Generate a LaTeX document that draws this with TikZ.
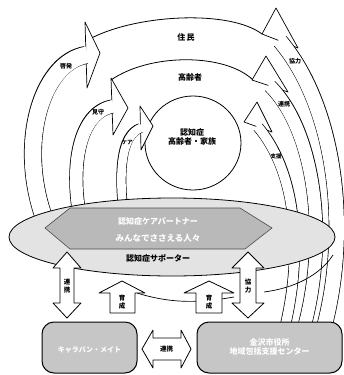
\documentclass[tikz,border=0pt]{standalone}
\usepackage{fontspec}
\setmainfont{Noto Sans CJK JP}
\begin{document}
\begin{tikzpicture}[x=1pt,y=-1pt,
  lab/.style={font=\fontsize{6}{6}\selectfont\bfseries, inner sep=0pt},
  vlab/.style={font=\fontsize{6.5}{7.5}\selectfont\bfseries, align=center, inner sep=0pt},
  ring/.style={font=\fontsize{8}{9}\selectfont\bfseries},
  head/.style={fill=white, draw=black, line width=0.7pt, line join=round},
  sho/.style={line width=#1, draw=black},
  shi/.style={line width=#1, draw=white, shorten >=-1.5pt},
  blk/.style={fill=white, draw=black, line width=0.8pt, line join=round},
  gbox/.style={fill=gray!45, draw=black, line width=1pt, rounded corners=12pt},
  wtxt/.style={text=white, font=\fontsize{8}{9}\selectfont\bfseries},
]
\useasboundingbox (0,0) rectangle (344,375);

% rings
\draw[line width=0.8pt] (92.5,37.5) .. controls (140,14) and (230,10) .. (262,34);
\draw[line width=0.8pt] (111,80) .. controls (150,53) and (225,53) .. (253,80);
\draw[line width=0.8pt] (193,143) ellipse [x radius=48pt, y radius=47pt];
\node[ring] (jumin) at (186,37) {住\,民};
\node[ring] (koreisha) at (190,77) {高齢者};
\node[ring, align=center] (kazoku) at (192,137) {認知症\\高齢者・家族};

% left arrows
\draw[head] (85,22)--(100,53)--(87,88)--cycle;
\draw[sho=18pt] (48,228) .. controls (15,150) and (40,62) .. (86,55);
\draw[shi=16.6pt] (48,228) .. controls (15,150) and (40,62) .. (86,55);
\node[lab] (lab1) at (66,66) {啓発};

\draw[head] (111,78)--(128,108)--(113,135)--cycle;
\draw[sho=14pt] (82,228) .. controls (68,165) and (80,112) .. (112,106.5);
\draw[shi=12.6pt] (82,228) .. controls (68,165) and (80,112) .. (112,106.5);
\node[lab] (lab2) at (98,112) {見守};

\draw[head] (140,106)--(153,126)--(141,150)--cycle;
\draw[sho=10pt] (125,225) .. controls (118,175) and (120,135) .. (140.5,128);
\draw[shi=8.6pt] (125,225) .. controls (118,175) and (120,135) .. (140.5,128);
\node[lab, font=\fontsize{5.5}{6}\selectfont\bfseries] (lab3) at (127,142) {ケア};

% right arrows
\draw[head] (262,34)--(276,8)--(298,48)--cycle;
\draw[sho=16pt] (322,335) .. controls (352,230) and (335,105) .. (280,41);
\draw[shi=14.6pt] (322,335) .. controls (352,230) and (335,105) .. (280,41);
\node[lab] (lab4) at (295,61) {協力};

\draw[head] (252,80)--(266,56)--(288,92)--cycle;
\draw[sho=14pt] (302,335) .. controls (330,240) and (315,130) .. (270,86);
\draw[shi=12.6pt] (302,335) .. controls (330,240) and (315,130) .. (270,86);
\node[lab] (lab5) at (284,104) {連携};

\draw[head] (244,122)--(257,102)--(272,132)--cycle;
\draw[sho=11pt] (283,335) .. controls (305,250) and (295,170) .. (258,127);
\draw[shi=9.6pt] (283,335) .. controls (305,250) and (295,170) .. (258,127);
\node[lab, font=\fontsize{5.5}{6}\selectfont\bfseries] (lab6) at (276,156) {支援};

% extra ring lines below oval
\draw[line width=0.7pt] (137,293) .. controls (175,305) and (205,302) .. (234,297);
\draw[line width=0.7pt] (264,292) .. controls (295,288) and (320,275) .. (333,255);

% supporters oval and hexagon
\draw[fill=gray!22, line width=0.8pt] (172,237) ellipse [x radius=163pt, y radius=39pt];
\draw[fill=gray!55, draw=gray!60!black, line width=0.6pt] (45,228)--(70,208)--(240,208)--(272,228)--(245,249)--(70,249)--cycle;
\node[wtxt] (hex1) at (158,221) {認知症ケアパートナー};
\node[wtxt, font=\fontsize{8.5}{9}\selectfont\bfseries] (hex2) at (158,238) {みんなでささえる人々};
\node[font=\fontsize{8}{9}\selectfont\bfseries] (supp) at (158,258) {認知症サポーター};

% vertical arrows
\draw[blk] (67,252)--(81,268)--(74,268)--(74,303)--(81,303)--(67,318)--(53,303)--(60,303)--(60,268)--(53,268)--cycle;
\node[vlab] (v1) at (67,286) {連\\携};
\draw[blk] (122,281)--(145,293)--(135,293)--(135,313)--(110,313)--(110,293)--(99,293)--cycle;
\node[vlab] (v2) at (122,302) {育\\成};
\draw[blk] (209,281)--(234,293)--(222,293)--(222,313)--(196,313)--(196,293)--(184,293)--cycle;
\node[vlab] (v3) at (209,302) {育\\成};
\draw[blk] (248,252)--(264,268)--(256,268)--(256,303)--(264,303)--(248,318)--(232,303)--(240,303)--(240,268)--(232,268)--cycle;
\node[vlab] (v4) at (248,286) {協\\力};

% bottom boxes
\draw[gbox] (42,322) rectangle (137,373);
\node[wtxt, font=\fontsize{7}{8}\selectfont\bfseries] (caravan) at (89.5,350) {キャラバン・メイト};
\draw[gbox] (197,322) rectangle (342,373);
\node[wtxt, align=center] (city) at (269.5,347) {金沢市役所\\地域包括支援センター};

% horizontal double arrow
\draw[blk] (142,349)--(153,330)--(153,338)--(181,338)--(181,330)--(191,349)--(181,368)--(181,360)--(153,360)--(153,368)--cycle;
\node[vlab] (h1) at (166.5,349) {連携};
\end{tikzpicture}
\end{document}
